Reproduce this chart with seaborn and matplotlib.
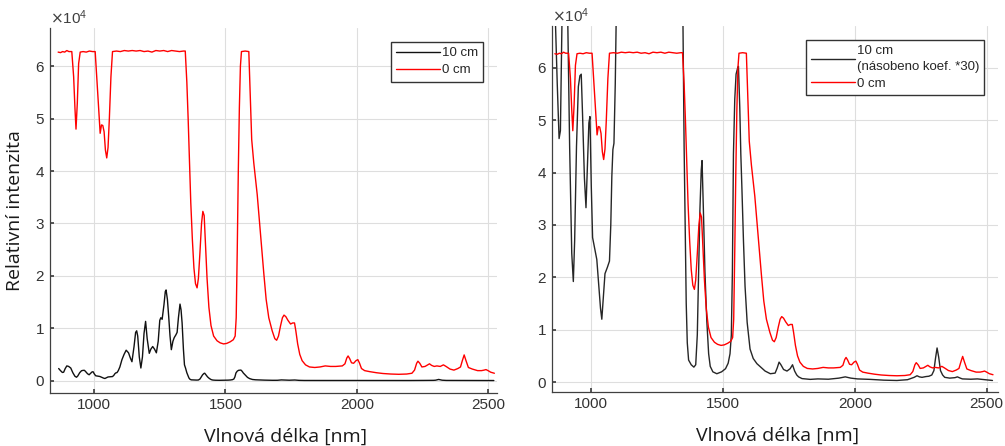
import matplotlib
matplotlib.use("Agg")
import matplotlib.pyplot as plt
import numpy as np
import pandas as pd
import seaborn as sns

# ---------------- data ----------------
WL_RED = [863, 872, 880, 888, 896, 904, 915, 922, 927, 931, 936, 941, 947, 958, 970, 982, 994,
          1004, 1010, 1016, 1023, 1028, 1033, 1038, 1043, 1048, 1053, 1058, 1064, 1070, 1085,
          1100, 1115, 1130, 1145, 1160, 1175, 1190, 1205, 1220, 1235, 1250, 1265, 1280, 1295,
          1310, 1325, 1340, 1347, 1353, 1358, 1363, 1368, 1374, 1380, 1386, 1392, 1397, 1403,
          1409, 1414, 1419, 1424, 1430, 1437, 1445, 1455, 1468, 1480, 1493, 1505, 1518, 1530,
          1537, 1541, 1545, 1549, 1553, 1557, 1561, 1575, 1589, 1594, 1600, 1608, 1621, 1635,
          1646, 1655, 1665, 1678, 1688, 1695, 1702, 1710, 1717, 1723, 1730, 1738, 1748, 1756,
          1763, 1768, 1775, 1783, 1792, 1805, 1820, 1840, 1860, 1880, 1900, 1920, 1945, 1955,
          1962, 1967, 1973, 1980, 1988, 1997, 2004, 2010, 2018, 2030, 2050, 2075, 2100, 2130,
          2160, 2190, 2210, 2220, 2228, 2233, 2240, 2248, 2260, 2270, 2277, 2285, 2295, 2305,
          2318, 2330, 2340, 2355, 2370, 2385, 2395, 2402, 2409, 2416, 2425, 2440, 2460, 2475,
          2485, 2492, 2500, 2510, 2524]
I_RED = [62700, 62600, 62800, 62700, 63000, 62800, 62800, 58000, 52000, 48000, 53000, 60500,
         62700, 62800, 62700, 62900, 62800, 62800, 58000, 53000, 47200, 48800, 48700, 47500,
         44000, 42500, 44500, 50000, 58000, 62800, 62900, 62800, 63000, 62900, 63000, 62900,
         63000, 62800, 62900, 62700, 63000, 62900, 63000, 62800, 63000, 62900, 62800, 62900,
         62900, 57000, 50000, 42000, 34000, 27000, 21500, 18500, 17700, 19500, 24500, 30000,
         32300, 31500, 26000, 19500, 14000, 10500, 8500, 7600, 7200, 7000, 7100, 7400, 7800,
         8500, 12000, 25000, 40000, 52000, 60000, 62800, 62900, 62800, 55000, 46000, 41500,
         35500, 27000, 20500, 15500, 12000, 9500, 8000, 7700, 8500, 10500, 12000, 12500, 12200,
         11500, 10800, 11000, 11000, 9500, 7000, 5000, 3800, 3000, 2600, 2500, 2600, 2800, 2700,
         2700, 2800, 3200, 4300, 4700, 4200, 3400, 3300, 3800, 4000, 3400, 2300, 1900, 1700,
         1500, 1350, 1250, 1200, 1250, 1400, 2000, 3300, 3700, 3300, 2600, 2700, 3000, 3200,
         2900, 2700, 2800, 2700, 3000, 2700, 2200, 2000, 2300, 2600, 3800, 4900, 3800, 2500,
         2200, 1900, 1900, 2000, 2100, 1900, 1600, 1400]

WL_BLACK = [865, 872, 879, 884, 890, 896, 903, 911, 919, 927, 933, 938, 945, 952, 958, 963, 968,
            975, 981, 987, 992, 996, 1001, 1006, 1014, 1022, 1030, 1036, 1041, 1047, 1053, 1062,
            1070, 1075, 1079, 1083, 1087, 1092, 1098, 1106, 1114, 1122, 1131, 1138, 1144, 1152,
            1158, 1162, 1166, 1172, 1178, 1184, 1190, 1196, 1202, 1210, 1216, 1223, 1230, 1237,
            1244, 1250, 1254, 1259, 1266, 1271, 1274, 1279, 1284, 1289, 1294, 1300, 1305, 1311,
            1316, 1321, 1327, 1331, 1335, 1340, 1344, 1348, 1353, 1357, 1361, 1365, 1370, 1380,
            1390, 1397, 1403, 1408, 1413, 1418, 1421, 1426, 1432, 1439, 1446, 1452, 1462, 1477,
            1495, 1510, 1520, 1527, 1532, 1536, 1540, 1545, 1550, 1556, 1559, 1564, 1568, 1572,
            1578, 1584, 1592, 1603, 1615, 1629, 1640, 1648, 1660, 1680, 1698, 1706, 1713, 1720,
            1730, 1743, 1755, 1764, 1772, 1780, 1787, 1800, 1831, 1860, 1900, 1940, 1964, 1985,
            2010, 2059, 2110, 2160, 2200, 2225, 2236, 2245, 2255, 2270, 2281, 2292, 2300, 2306,
            2312, 2318, 2325, 2333, 2341, 2360, 2380, 2389, 2400, 2408, 2440, 2465, 2495, 2522]
I_BLACK = [2300, 1900, 1550, 1600, 2300, 2800, 2700, 2400, 1500, 820, 640, 900, 1500, 1880,
           1950, 1960, 1700, 1300, 1110, 1400, 1650, 1690, 1250, 920, 850, 780, 600, 470, 400,
           550, 690, 730, 770, 1000, 1310, 1480, 1520, 1900, 2600, 4000, 5000, 5800, 5300, 4300,
           3600, 6500, 9200, 9500, 8500, 4500, 2400, 4500, 9000, 11300, 8000, 5200, 6000, 6500,
           6000, 5300, 7500, 11500, 12000, 11700, 14500, 17000, 17300, 15500, 12200, 8500, 5900,
           7500, 8200, 8700, 9200, 12000, 14600, 13500, 11000, 6000, 3000, 2400, 1500, 1000, 500,
           250, 140, 110, 95, 110, 300, 700, 1100, 1350, 1410, 1100, 700, 390, 180, 100, 65, 53,
           65, 85, 120, 180, 300, 700, 1450, 1800, 1960, 2000, 2010, 1750, 1450, 1240, 900, 610,
           380, 210, 150, 117, 100, 87, 70, 53, 57, 90, 127, 110, 80, 70, 85, 110, 70, 45, 33,
           22, 17, 20, 18, 25, 33, 25, 20, 17, 12, 10, 15, 30, 40, 33, 30, 35, 37, 45, 73, 150,
           217, 160, 73, 45, 30, 25, 28, 33, 25, 20, 18, 20, 15, 10]

COEF = 30
X_TICKS = [1000, 1500, 2000, 2500]
Y_TICKS = [0, 10000, 20000, 30000, 40000, 50000, 60000]
LABEL_BLACK = "10 cm"
LABEL_BLACK_SCALED = "10 cm\n(násobeno koef. *30)"
LABEL_RED = "0 cm"
XLABEL = "Vlnová délka [nm]"
YLABEL = "Relativní intenzita"

df_red = pd.DataFrame({"wl": WL_RED, "I": I_RED})
df_black = pd.DataFrame({"wl": WL_BLACK, "I": I_BLACK})
df_black_scaled = pd.DataFrame({"wl": WL_BLACK, "I": np.array(I_BLACK, dtype=float) * COEF})

# ---------------- style ----------------
sns.set_theme(style="whitegrid")
plt.rcParams.update({
    "axes.edgecolor": "#404040",
    "axes.linewidth": 0.9,
    "grid.color": "#dedede",
    "grid.linewidth": 0.8,
    "xtick.color": "#404040",
    "ytick.color": "#404040",
    "xtick.labelcolor": "#333333",
    "ytick.labelcolor": "#333333",
    "xtick.direction": "in",
    "ytick.direction": "in",
    "xtick.major.size": 3,
    "ytick.major.size": 3,
    "xtick.bottom": True,
    "ytick.left": True,
    "xtick.labelsize": 11,
    "ytick.labelsize": 11,
})
plt.rcParams["font.family"] = ["Liberation Sans", "DejaVu Sans"]

W, H = 1005, 446
fig = plt.figure(figsize=(W / 100, H / 100), dpi=100)
ax1 = fig.add_axes([50 / W, 1 - 393 / H, 447 / W, 365 / H])
ax2 = fig.add_axes([551.7 / W, 1 - 392 / H, 446.3 / W, 366 / H])

sns.lineplot(data=df_black, x="wl", y="I", ax=ax1, color="#111111", linewidth=1.0,
             label=LABEL_BLACK, estimator=None, sort=False)
sns.lineplot(data=df_red, x="wl", y="I", ax=ax1, color="#ff0000", linewidth=1.0,
             label=LABEL_RED, estimator=None, sort=False)
sns.lineplot(data=df_black_scaled, x="wl", y="I", ax=ax2, color="#262626", linewidth=1.0,
             label=LABEL_BLACK_SCALED, estimator=None, sort=False)
sns.lineplot(data=df_red, x="wl", y="I", ax=ax2, color="#ff0000", linewidth=1.0,
             label=LABEL_RED, estimator=None, sort=False)

ax1.set_xlim(832, 2534)
ax1.set_ylim(-2370, 67300)
ax2.set_xlim(851, 2543)
ax2.set_ylim(-1900, 68000)

label_font = dict(family=["Open Sans", "DejaVu Sans"], size=14, color="#1a1a1a")
for ax in (ax1, ax2):
    ax.set_xticks(X_TICKS)
    ax.set_yticks(Y_TICKS)
    ax.ticklabel_format(axis="y", style="sci", scilimits=(4, 4), useMathText=True)
    ax.yaxis.get_offset_text().set_fontsize(11)
    ax.yaxis.get_offset_text().set_color("#404040")
    ax.spines["top"].set_visible(False)
    ax.spines["right"].set_visible(False)
    ax.set_xlabel(XLABEL, fontdict=label_font)
    ax.set_ylabel("")
    ax.grid(True)
    ax.set_facecolor("white")

ax1.xaxis.set_label_coords(0.528, -0.095)
ax2.xaxis.set_label_coords(0.506, -0.095)
ax1.set_ylabel(YLABEL, fontdict=label_font, labelpad=8)

leg_kw = dict(loc="upper right", bbox_to_anchor=(0.969, 0.962), borderaxespad=0,
              frameon=True, fancybox=False, framealpha=1, edgecolor="#333333",
              handlelength=3.3, fontsize=9.5, borderpad=0.4, labelspacing=0.35,
              handletextpad=0.15)
leg1 = ax1.legend(**leg_kw)
leg2 = ax2.legend(**leg_kw)
for leg in (leg1, leg2):
    leg.get_frame().set_linewidth(1.0)
    for t in leg.get_texts():
        t.set_linespacing(1.45)

fig.savefig("out.png", dpi=100, facecolor="white")
